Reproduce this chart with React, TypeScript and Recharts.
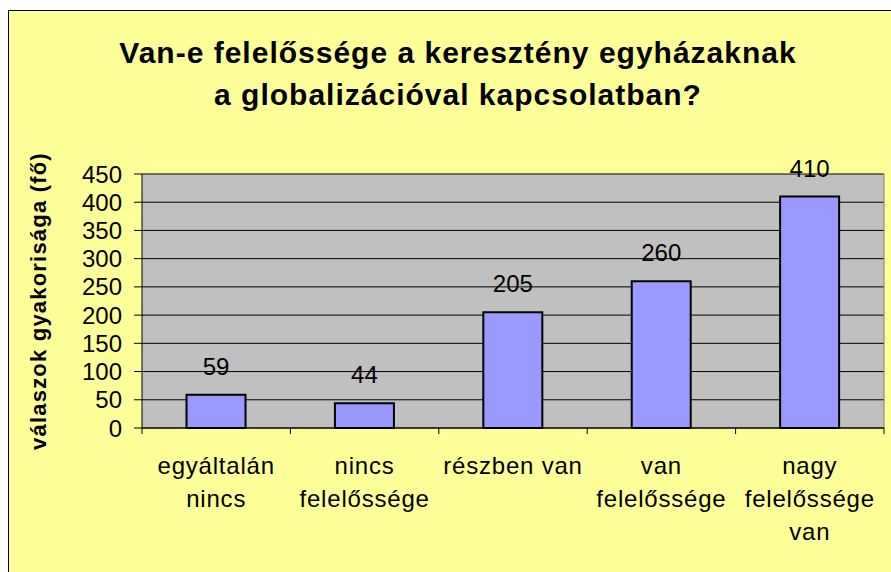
import { BarChart, Bar, XAxis, YAxis, CartesianGrid, LabelList } from "recharts";

const categories = [
  "egyáltalán\nnincs",
  "nincs\nfelelőssége",
  "részben van",
  "van\nfelelőssége",
  "nagy\nfelelőssége\nvan",
];
const counts = [59, 44, 205, 260, 410];
const yTicks = [0, 50, 100, 150, 200, 250, 300, 350, 400, 450];
const titleLines = ["Van-e felelőssége a keresztény egyházaknak", "a globalizációval kapcsolatban?"];
const yLabel = "válaszok gyakorisága (fő)";

const data = categories.map((name, i) => ({ name, value: counts[i] }));

const FONT = '"Liberation Sans", Arial, sans-serif';

function CategoryTick(props: any) {
  const { x, y, payload, index } = props;
  const half = payload.offset || 74.2;
  const lines = String(payload.value).split("\n");
  return (
    <g>
      <line x1={x - half} x2={x - half} y1={y} y2={y + 6} stroke="#000" />
      {index === categories.length - 1 && (
        <line x1={x + half} x2={x + half} y1={y} y2={y + 6} stroke="#000" />
      )}
      <text x={x} y={y + 46} textAnchor="middle" fontSize={24} fill="#000" fontFamily={FONT} letterSpacing={0.8}>
        {lines.map((l, i) => (
          <tspan key={i} x={x} dy={i === 0 ? 0 : 33}>
            {l}
          </tspan>
        ))}
      </text>
    </g>
  );
}

function ValueLabel(props: any) {
  const { x, y, width, value } = props;
  return (
    <text x={x + width / 2} y={y - 20} textAnchor="middle" fontSize={24} fill="#000" fontFamily={FONT}>
      {value}
    </text>
  );
}

function YTitle(props: any) {
  const { viewBox } = props;
  const cx = 38;
  const cy = viewBox.y + viewBox.height / 2;
  return (
    <text
      transform={`translate(${cx},${cy}) rotate(-90)`}
      textAnchor="middle"
      dominantBaseline="central"
      fontSize={22}
      fontWeight="bold"
      fill="#000"
      fontFamily={FONT}
      letterSpacing={1.2}
    >
      {yLabel}
    </text>
  );
}

export default function App() {
  return (
    <div style={{ position: "absolute", left: 0, top: 0, width: 891, height: 572, overflow: "hidden", background: "#fff" }}>
      <div
        style={{
          position: "absolute",
          left: 8,
          top: 10,
          width: 900,
          height: 600,
          background: "#FFFF99",
          borderLeft: "1.5px solid #000",
          borderTop: "1.5px solid #000",
        }}
      />
      <svg style={{ position: "absolute", left: 0, top: 0 }} width={891} height={150}>
        {titleLines.map((t, i) => (
          <text
            key={i}
            x={458}
            y={63 + i * 42}
            textAnchor="middle"
            fontSize={30}
            fontWeight="bold"
            fill="#000"
            fontFamily={FONT}
            letterSpacing={1}
          >
            {t}
          </text>
        ))}
      </svg>
      <div style={{ position: "absolute", left: 0, top: 0 }}>
        <BarChart
          width={891}
          height={572}
          data={data}
          margin={{ top: 174, right: 7, left: 0, bottom: 0 }}
          barCategoryGap="30%"
        >
          <CartesianGrid vertical={false} stroke="#000" fill="#C0C0C0" fillOpacity={1} />
          <CartesianGrid
            horizontal={false}
            stroke="#808080"
            verticalCoordinatesGenerator={({ offset }: any) => [offset.left + offset.width]}
          />
          <XAxis
            dataKey="name"
            height={144}
            interval={0}
            tickLine={false}
            tickSize={0}
            tickMargin={0}
            axisLine={{ stroke: "#000" }}
            tick={<CategoryTick />}
          />
          <YAxis
            width={142}
            domain={[0, 450]}
            ticks={yTicks}
            interval={0}
            tickSize={8}
            tickMargin={12}
            axisLine={{ stroke: "#000" }}
            tickLine={{ stroke: "#000" }}
            tick={{ fontSize: 24, fill: "#000", fontFamily: FONT }}
            label={<YTitle />}
          />
          <Bar dataKey="value" fill="#9999FF" stroke="#000" strokeWidth={2} isAnimationActive={false}>
            <LabelList dataKey="value" content={<ValueLabel />} />
          </Bar>
        </BarChart>
      </div>
    </div>
  );
}
